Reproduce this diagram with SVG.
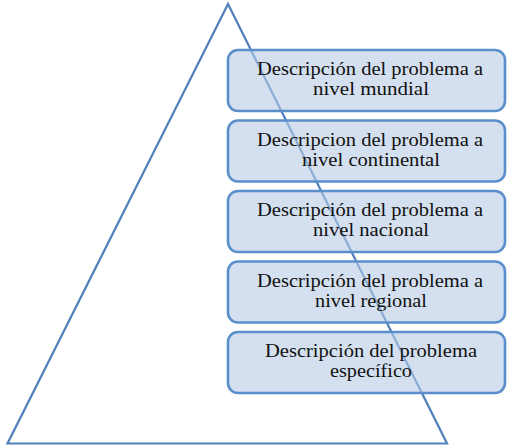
<svg xmlns="http://www.w3.org/2000/svg" width="508" height="446" viewBox="0 0 508 446">
<style>
.tri{fill:none;stroke:#4f81bd;stroke-width:2.2;stroke-linejoin:miter}
.box{fill:#b8cce4;fill-opacity:0.6;stroke:#5b8fcc;stroke-width:2.6}
.t{font-family:"Liberation Serif","Times New Roman",serif;font-size:18px;fill:#111;text-anchor:middle}
</style>
<g id="pyramid"><polygon class="tri" points="228,4 447,443.5 7.5,443.5"/></g>
<g id="connectors"></g>
<g id="n1"><rect class="box" x="228" y="50" width="277" height="61" rx="10"/><text class="t" x="370" y="75" textLength="226" lengthAdjust="spacingAndGlyphs">Descripción del problema a</text><text class="t" x="371" y="95" textLength="116" lengthAdjust="spacingAndGlyphs">nivel mundial</text></g>
<g id="n2"><rect class="box" x="228" y="120.5" width="277" height="61" rx="10"/><text class="t" x="370" y="145.5" textLength="226" lengthAdjust="spacingAndGlyphs">Descripcion del problema a</text><text class="t" x="371" y="165.5" textLength="138" lengthAdjust="spacingAndGlyphs">nivel continental</text></g>
<g id="n3"><rect class="box" x="228" y="191" width="277" height="61" rx="10"/><text class="t" x="370" y="216" textLength="226" lengthAdjust="spacingAndGlyphs">Descripción del problema a</text><text class="t" x="371" y="236" textLength="116" lengthAdjust="spacingAndGlyphs">nivel nacional</text></g>
<g id="n4"><rect class="box" x="228" y="261.5" width="277" height="61" rx="10"/><text class="t" x="370" y="286.5" textLength="226" lengthAdjust="spacingAndGlyphs">Descripción del problema a</text><text class="t" x="371" y="306.5" textLength="112" lengthAdjust="spacingAndGlyphs">nivel regional</text></g>
<g id="n5"><rect class="box" x="228" y="332" width="277" height="61" rx="10"/><text class="t" x="371" y="357" textLength="212" lengthAdjust="spacingAndGlyphs">Descripción del problema</text><text class="t" x="371" y="377" textLength="82" lengthAdjust="spacingAndGlyphs">específico</text></g>
</svg>
